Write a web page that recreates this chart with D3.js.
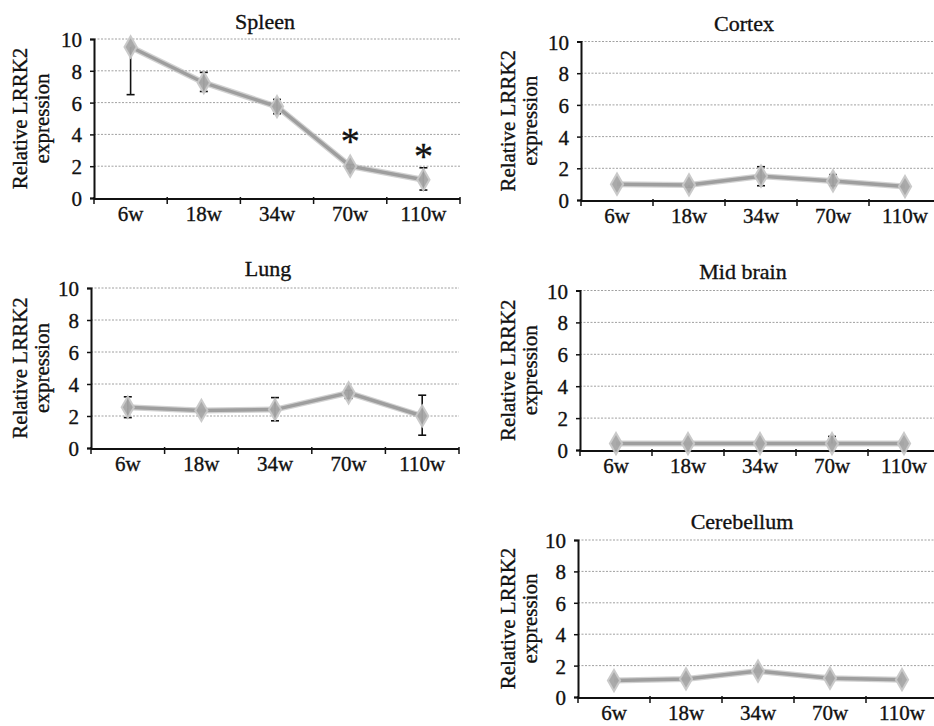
<!DOCTYPE html>
<html><head><meta charset="utf-8">
<script src="https://cdn.jsdelivr.net/npm/d3@7"></script>
<style>body{margin:0;background:#fff}svg{display:block}</style>
</head><body><svg id="c" width="934" height="726"></svg>
<script>
const FONT = "'Liberation Serif', 'DejaVu Serif', 'Times New Roman', serif";
const categories = ["6w","18w","34w","70w","110w"];
const yTicks = [0,2,4,6,8,10];
const yLabelLines = ["Relative LRRK2","expression"];

const spleenMean = [9.5, 7.25, 5.75, 2.0, 1.15];
const spleenLo   = [6.5, 6.7, 5.3, 1.85, 0.5];
const spleenHi   = [9.5, 7.9, 6.2, 2.1, 1.9];
const spleenStarLevel = [null, null, null, 3.85, 2.9];

const cortexMean = [1.0, 0.95, 1.5, 1.2, 0.85];
const cortexLo   = [1.0, 0.8, 0.9, 0.9, 0.85];
const cortexHi   = [1.0, 1.0, 2.1, 1.6, 0.85];

const lungMean = [2.55, 2.35, 2.4, 3.45, 2.0];
const lungLo   = [1.9, 2.35, 1.7, 3.1, 0.8];
const lungHi   = [3.2, 2.35, 3.15, 3.6, 3.3];

const midMean = [0.4, 0.4, 0.4, 0.4, 0.4];
const midLo   = [0.4, 0.4, 0.4, 0.4, 0.4];
const midHi   = [0.4, 0.4, 0.4, 0.85, 0.4];

const cereMean = [1.05, 1.15, 1.65, 1.2, 1.1];
const cereLo   = [1.05, 1.15, 1.65, 1.2, 1.1];
const cereHi   = [1.05, 1.15, 1.65, 1.2, 1.1];

const panels = [
  {title:"Spleen", mean:spleenMean, lo:spleenLo, hi:spleenHi, star:spleenStarLevel, x0:94, x1:460, top:39, bottom:198, tx:265, ty:29, lx:21},
  {title:"Cortex", mean:cortexMean, lo:cortexLo, hi:cortexHi, x0:581, x1:941, top:41.5, bottom:200, tx:744, ty:31, lx:509},
  {title:"Lung", mean:lungMean, lo:lungLo, hi:lungHi, x0:91, x1:459, top:288, bottom:448, tx:268, ty:276, lx:21},
  {title:"Mid brain", mean:midMean, lo:midLo, hi:midHi, x0:580, x1:940, top:290.5, bottom:450, tx:743, ty:279, lx:509},
  {title:"Cerebellum", mean:cereMean, lo:cereLo, hi:cereHi, x0:578, x1:938, top:540, bottom:697, tx:742, ty:529, lx:509}
];

const svg = d3.select("#c");
const ink = sel => sel.attr("fill","#111").attr("stroke","#111").attr("stroke-width",0.35);

panels.forEach(p => {
  const x = d3.scaleBand().domain(categories).range([p.x0, p.x1]);
  const y = d3.scaleLinear().domain([0,10]).range([p.bottom, p.top]);
  const g = svg.append("g").attr("font-family", FONT);

  // grid
  g.selectAll(".grid").data(yTicks.filter(t=>t>0)).join("line")
    .attr("x1", p.x0).attr("x2", p.x1)
    .attr("y1", d=>y(d)).attr("y2", d=>y(d))
    .attr("stroke","#8a8a8a").attr("stroke-width",1).attr("stroke-dasharray","2,1.5").attr("opacity",0.8);

  // y axis
  const ya = g.append("g").attr("transform",`translate(${p.x0},0)`)
    .call(d3.axisLeft(y).tickValues(yTicks).tickSize(4).tickPadding(8));
  ya.attr("font-family", FONT);
  ya.select(".domain").attr("stroke","#111").attr("stroke-width",2);
  ya.selectAll(".tick line").attr("stroke","#111").attr("stroke-width",1.5);
  ya.selectAll("text").attr("font-size",21).attr("dy","0.36em").call(ink);

  // x axis
  const xa = g.append("g").attr("transform",`translate(0,${p.bottom+1})`);
  xa.append("line").attr("x1",p.x0).attr("x2",p.x1).attr("stroke","#111").attr("stroke-width",2);
  const bounds = categories.map(c=>x(c)).concat([x(categories[categories.length-1])+x.bandwidth()]);
  xa.selectAll(".xt").data(bounds).join("line")
    .attr("x1",d=>d).attr("x2",d=>d).attr("y1",-2).attr("y2",5)
    .attr("stroke","#111").attr("stroke-width",1.5);
  xa.selectAll(".xl").data(categories).join("text")
    .attr("x",d=>x(d)+x.bandwidth()/2).attr("y",22)
    .attr("text-anchor","middle").attr("font-size",21).text(d=>d).call(ink);

  // y label
  const lab = g.append("text").attr("transform",`translate(${p.lx},${(p.top+p.bottom)/2}) rotate(-90)`)
    .attr("text-anchor","middle").attr("font-size",21).call(ink);
  yLabelLines.forEach((t,i)=> lab.append("tspan").attr("x",0).attr("dy", i===0? "0.3em":"1.05em").text(t));

  // title
  g.append("text").attr("x",p.tx).attr("y",p.ty).attr("text-anchor","middle").attr("font-size",22).text(p.title).call(ink);

  const cx = i => x(categories[i]) + x.bandwidth()/2;

  // line
  const line = d3.line().x((d,i)=>cx(i)).y(d=>y(d));
  g.append("path").datum(p.mean).attr("d",line).attr("fill","none")
    .attr("stroke","#b4b4b4").attr("stroke-width",6).attr("opacity",0.6);
  g.append("path").datum(p.mean).attr("d",line).attr("fill","none")
    .attr("stroke","#9e9e9e").attr("stroke-width",3.5);

  // error bars
  p.mean.forEach((m,i)=>{
    if (p.lo[i] < m - 0.05) {
      g.append("line").attr("x1",cx(i)).attr("x2",cx(i)).attr("y1",y(m)).attr("y2",y(p.lo[i])).attr("stroke","#111").attr("stroke-width",1.6);
      g.append("line").attr("x1",cx(i)-4).attr("x2",cx(i)+4).attr("y1",y(p.lo[i])).attr("y2",y(p.lo[i])).attr("stroke","#111").attr("stroke-width",1.6);
    }
    if (p.hi[i] > m + 0.05) {
      g.append("line").attr("x1",cx(i)).attr("x2",cx(i)).attr("y1",y(m)).attr("y2",y(p.hi[i])).attr("stroke","#111").attr("stroke-width",1.6);
      g.append("line").attr("x1",cx(i)-4).attr("x2",cx(i)+4).attr("y1",y(p.hi[i])).attr("y2",y(p.hi[i])).attr("stroke","#111").attr("stroke-width",1.6);
    }
  });

  // markers
  const sym = d3.symbol().type(d3.symbolDiamond).size(130);
  g.selectAll(".mk").data(p.mean).join("path")
    .attr("d",sym).attr("transform",(d,i)=>`translate(${cx(i)},${y(d)})`)
    .attr("fill","#a6a6a6").attr("stroke","#c8c8c8").attr("stroke-width",2).attr("opacity",0.95);

  // asterisks
  if (p.star) {
    p.star.forEach((lvl,i)=>{
      if (lvl == null) return;
      g.append("text").attr("x",cx(i)).attr("y",y(lvl) + 17)
        .attr("text-anchor","middle").attr("font-size",38).text("*").call(ink);
    });
  }
});
</script></body></html>
